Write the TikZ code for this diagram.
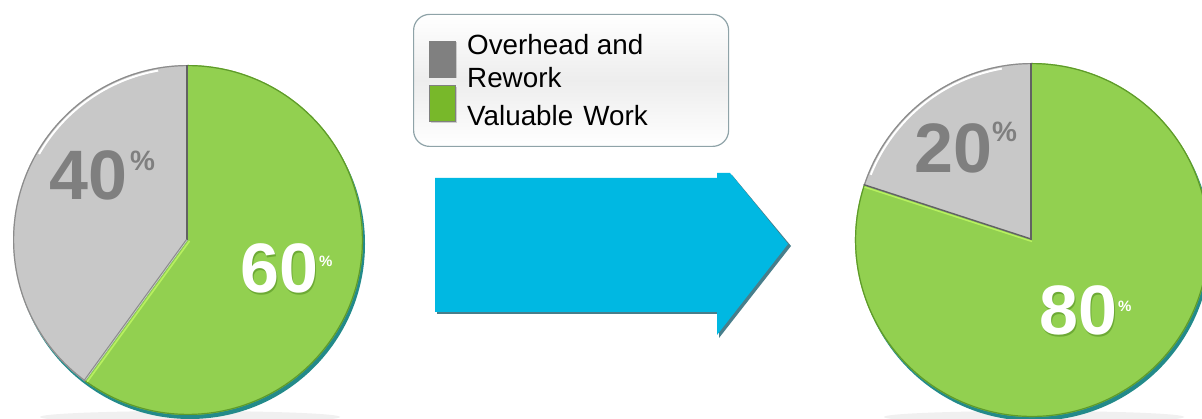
\documentclass[tikz,border=0pt]{standalone}
\usepackage{fontspec}
\setmainfont{Liberation Sans}
\usetikzlibrary{shadows}
\definecolor{pgreen}{HTML}{92D050}
\definecolor{pgreendk}{HTML}{5E9A2A}
\definecolor{plime}{HTML}{B8F060}
\definecolor{pgray}{HTML}{C8C8C8}
\definecolor{pgraydk}{HTML}{8C8C8C}
\definecolor{lblgray}{HTML}{7F7F7F}
\definecolor{arrowc}{HTML}{00B8E2}
\definecolor{arrowsh}{HTML}{1B5E6E}
\definecolor{rimteal}{HTML}{238A8A}
\definecolor{sqgray}{HTML}{808080}
\definecolor{sqgreen}{HTML}{78B82A}
\definecolor{boxedge}{HTML}{8FA3A8}
\tikzset{
  bignum/.style={font=\fontsize{70}{70}\selectfont\bfseries, inner sep=0pt, anchor=base west},
  pctbig/.style={font=\fontsize{28}{28}\selectfont\bfseries, inner sep=0pt, anchor=base west},
  pctsmall/.style={font=\fontsize{15}{15}\selectfont\bfseries, inner sep=0pt, anchor=base west},
  legtext/.style={font=\fontsize{27.8}{27.8}\selectfont, inner sep=0pt, anchor=base west, text=black},
  legendbox/.style={draw=boxedge, line width=1.2pt, rounded corners=16pt, top color=white, bottom color=white, middle color=gray!14, minimum width=315pt, minimum height=132pt, anchor=south west, inner sep=0pt},
  sq/.style={minimum width=26pt, minimum height=36pt, inner sep=0pt, draw=black!50, line width=0.6pt, drop shadow={shadow xshift=1.5pt, shadow yshift=-1.5pt, opacity=0.35}},
  shadowtext/.style={text=pgreendk, opacity=0.7},
}
\begin{document}
\begin{tikzpicture}[x=1pt,y=1pt]
\useasboundingbox (0,0) rectangle (1202,419);
\clip (0,0) rectangle (1202,419);
\fill[white] (0,0) rectangle (1202,419);

% ---------- left pie ----------
\fill[gray!12] (190,2) ellipse (150 and 6);
\fill[rimteal] (190,175) circle (175);
\fill[pgray] (188,179) -- ++(90:175) arc (90:234:175) -- cycle;
\fill[pgreen] (188,179) -- ++(234:175) arc (234:450:175) -- cycle;
\draw[pgraydk, line width=1.2pt] (188,179) ++(90:174.4) arc (90:234:174.4);
\draw[pgreendk, line width=1.2pt] (188,179) ++(-126:174.4) arc (-126:90:174.4);
\draw[white, line width=2pt] (188,179) ++(100:172) arc (100:150:172);
\draw[pgraydk!70!black, line width=1.6pt] (187,179) -- (187,354);
\draw[plime, line width=1.6pt] (189.5,178) -- ++(234:174);
\draw[pgraydk, line width=1pt] (186.5,179.5) -- ++(234:174);

\node[bignum, text=lblgray] (l40) at (49,219) {40};
\node[pctbig, text=lblgray] (l40p) at (130,248) {\%};
\node[bignum, shadowtext] (l60s) at (241.5,124.5) {60};
\node[bignum, text=white] (l60) at (240,126) {60};
\node[pctsmall, text=white] (l60p) at (319,152) {\%};

% ---------- arrow ----------
\fill[arrowsh, opacity=0.8] (437,105) -- (437,239) -- (719,239) -- (719,244) -- (732,244) -- (791,173) -- (719,81) -- (719,105) -- cycle;
\fill[arrowc] (435,107) -- (435,241) -- (717,241) -- (717,246) -- (730,246) -- (788,175) -- (717,84) -- (717,107) -- cycle;

% ---------- legend ----------
\node[legendbox] (legend) at (413,272) {};
\node[sq, fill=sqgray] (sq1) at (442,360) {};
\node[sq, fill=sqgreen] (sq2) at (442,315.5) {};
\node[legtext] (t1) at (467,364) {Overhead and};
\node[legtext] (t2) at (467,331) {Rework};
\node[legtext] (t3) at (467,293) {Valuable\hspace{10pt}Work};

% ---------- right pie ----------
\fill[gray!12] (1034,2) ellipse (150 and 6);
\fill[rimteal] (1034,175) circle (177);
\fill[pgray] (1032,179) -- ++(90:177) arc (90:162:177) -- cycle;
\fill[pgreen] (1032,179) -- ++(162:177) arc (162:450:177) -- cycle;
\draw[pgraydk, line width=1.2pt] (1032,179) ++(90:176.4) arc (90:162:176.4);
\draw[pgreendk, line width=1.2pt] (1032,179) ++(162:176.4) arc (162:450:176.4);
\draw[white, line width=2pt] (1032,179) ++(100:174) arc (100:158:174);
\draw[pgraydk!70!black, line width=1.6pt] (1031,179) -- (1031,356);
\draw[pgraydk!70!black, line width=1.4pt] (1031,180) -- ++(162:176);
\draw[plime, line width=1.4pt] (1032,177.5) -- ++(162:176);

\node[bignum, text=lblgray] (r20) at (914,246) {20};
\node[pctbig, text=lblgray] (r20p) at (992,277) {\%};
\node[bignum, shadowtext] (r80s) at (1040.5,82.5) {80};
\node[bignum, text=white] (r80) at (1039,84) {80};
\node[pctsmall, text=white] (r80p) at (1118,107) {\%};
\end{tikzpicture}
\end{document}
